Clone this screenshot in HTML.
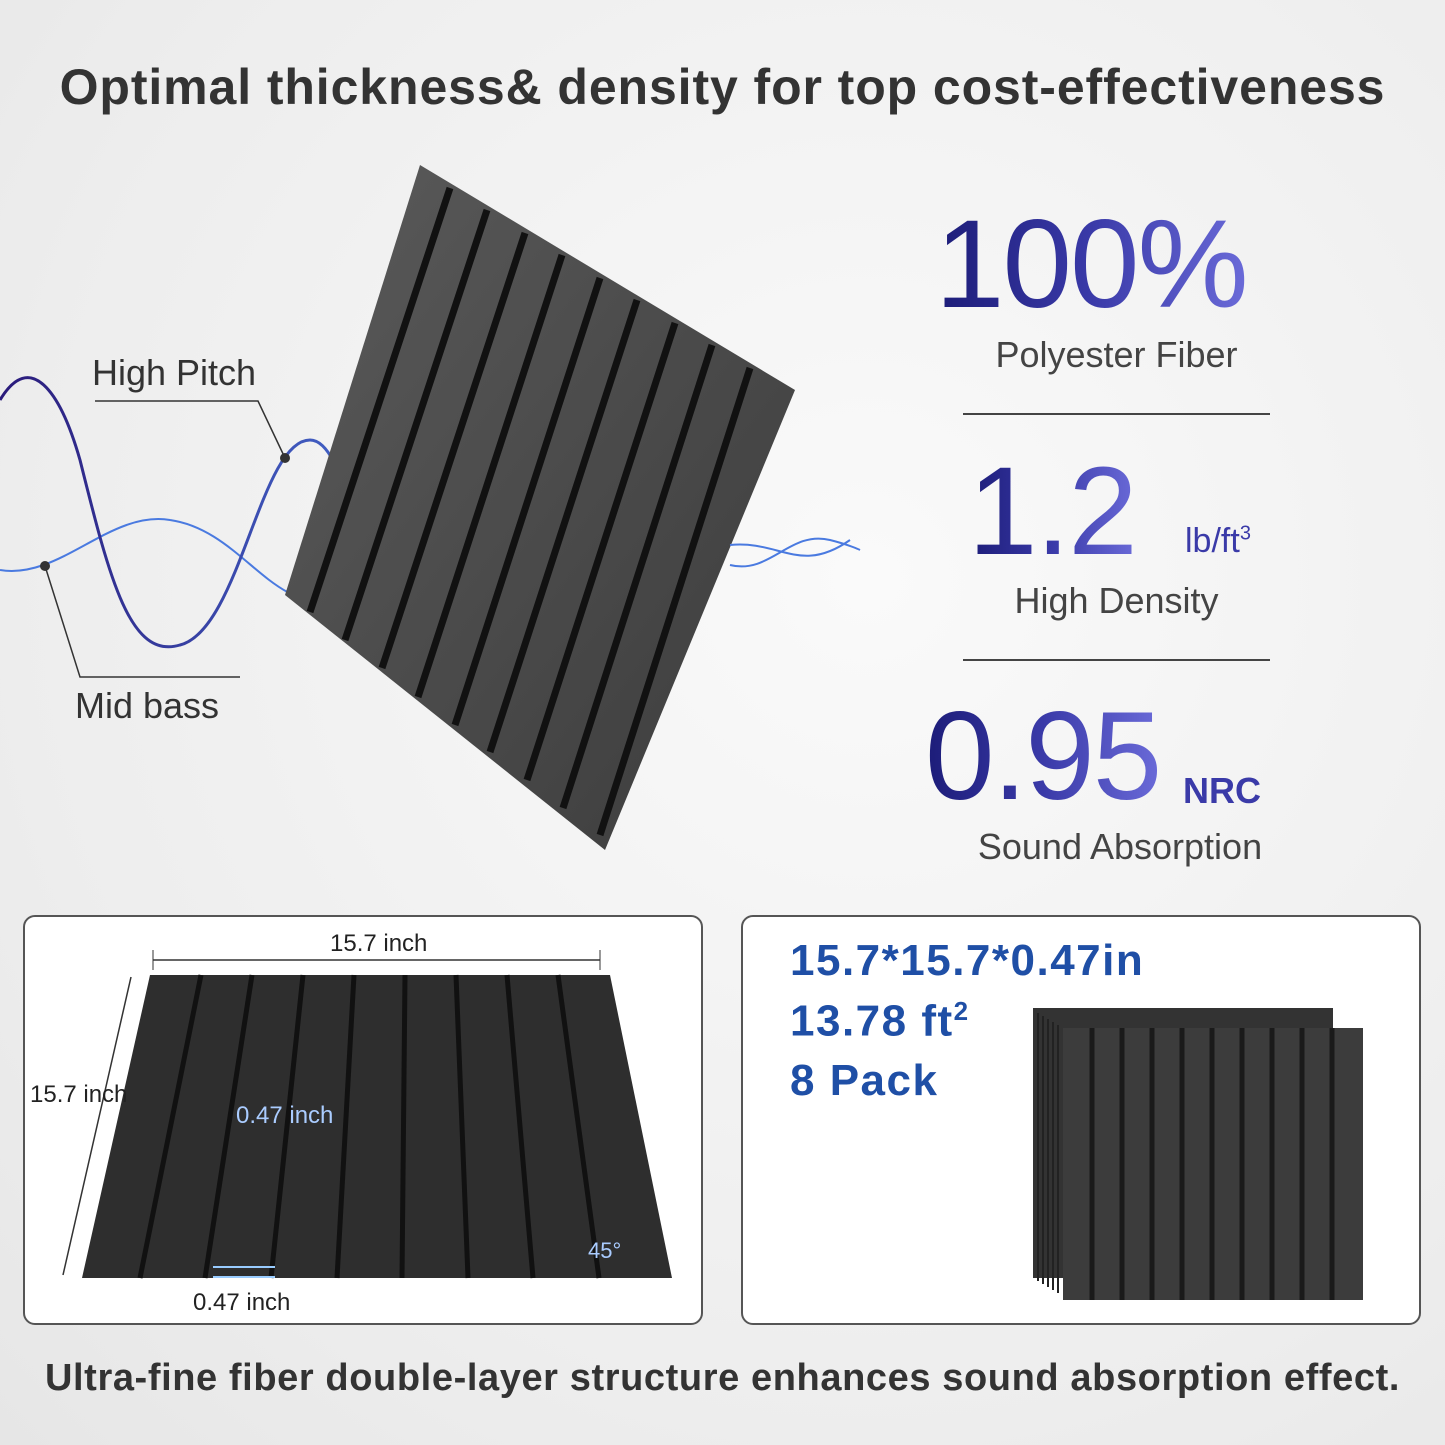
<!DOCTYPE html>
<html><head><meta charset="utf-8"><style>
html,body{margin:0;padding:0}
body{width:1445px;height:1445px;overflow:hidden;background:radial-gradient(ellipse at 60% 40%,#fafafa 0%,#ededed 70%,#e6e6e6 100%);font-family:"Liberation Sans",sans-serif;position:relative}
.t{position:absolute;white-space:nowrap}
.big{font-family:"Liberation Sans",sans-serif;background:linear-gradient(90deg,#1c1c78,#3a3aa8 50%,#6a6ad8);-webkit-background-clip:text;background-clip:text;color:transparent;letter-spacing:-2px}
.sub{color:#444;font-size:36px;text-align:center}
.box{position:absolute;background:#fff;border:2px solid #555;border-radius:12px}
.blue{color:#1f4fa6;font-weight:bold;font-size:44px;letter-spacing:1.5px}
</style></head><body>
<div class="t" style="left:0;width:1445px;text-align:center;top:58px;font-size:50px;letter-spacing:0.9px;font-weight:bold;color:#333">Optimal thickness&amp; density for top cost-effectiveness</div>

<svg class="t" style="left:0;top:0" width="900" height="900">
<defs><linearGradient id="w" x1="0" x2="1"><stop offset="0" stop-color="#2a1a7a"/><stop offset="1" stop-color="#4a7ae0"/></linearGradient>
<linearGradient id="p" x1="0" y1="0" x2="1" y2="1"><stop offset="0" stop-color="#5a5a5a"/><stop offset="1" stop-color="#3c3c3c"/></linearGradient></defs>
<path d="M0,570 C60,580 110,510 170,520 C240,530 270,610 330,600 C390,590 410,510 450,520 C480,530 470,590 500,610" stroke="#4a7ae0" stroke-width="2" fill="none"/>
<path d="M0,400 C30,350 60,390 80,460 C110,580 130,660 180,645 C240,630 260,440 310,440 C350,440 360,600 410,600 C440,600 450,580 470,560" stroke="url(#w)" stroke-width="3" fill="none"/>
<polygon points="420,165 795,390 605,850 285,595" fill="url(#p)"/>
<g stroke="#111" stroke-width="7">
<line x1="450" y1="188" x2="310" y2="612"/><line x1="487" y1="210" x2="345" y2="640"/>
<line x1="525" y1="233" x2="382" y2="668"/><line x1="562" y1="255" x2="418" y2="697"/>
<line x1="600" y1="278" x2="455" y2="725"/><line x1="637" y1="300" x2="490" y2="752"/>
<line x1="675" y1="323" x2="527" y2="780"/><line x1="712" y1="345" x2="563" y2="808"/>
<line x1="750" y1="368" x2="600" y2="835"/>
</g>
<path d="M730,565 C770,575 790,530 830,540 C850,545 860,550 860,550 M730,545 C780,540 800,575 850,540" stroke="#4a7ae0" stroke-width="2" fill="none"/>
<polyline points="95,401 258,401 285,458" stroke="#333" stroke-width="1.5" fill="none"/><circle cx="285" cy="458" r="5" fill="#333"/>
<polyline points="45,566 80,677 240,677" stroke="#333" stroke-width="1.5" fill="none"/><circle cx="45" cy="566" r="5" fill="#333"/>
</svg>
<div class="t" style="left:92px;top:352px;font-size:36px;color:#333">High Pitch</div>
<div class="t" style="left:75px;top:685px;font-size:36px;color:#333">Mid bass</div>

<div class="t big" style="left:935px;top:200px;font-size:125px;line-height:130px">100%</div>
<div class="t sub" style="left:963px;width:307px;top:334px">Polyester Fiber</div>
<div class="t" style="left:963px;top:413px;width:307px;height:2px;background:#444"></div>
<div class="t big" style="left:968px;top:447px;font-size:125px;line-height:130px">1.2</div>
<div class="t" style="left:1185px;top:522px;font-size:34px;color:#3a3aa8">lb/ft<sup style="font-size:20px">3</sup></div>
<div class="t sub" style="left:963px;width:307px;top:580px">High Density</div>
<div class="t" style="left:963px;top:659px;width:307px;height:2px;background:#444"></div>
<div class="t big" style="left:925px;top:692px;font-size:125px;line-height:130px">0.95</div>
<div class="t" style="left:1183px;top:770px;font-size:36px;font-weight:bold;color:#3a3aa8">NRC</div>
<div class="t sub" style="left:950px;width:340px;top:826px">Sound Absorption</div>

<div class="box" style="left:23px;top:915px;width:676px;height:406px"></div>
<svg class="t" style="left:23px;top:915px" width="680" height="410">
<polygon points="127,60 587,60 649,363 59,363" fill="#2e2e2e"/>
<g stroke="#111" stroke-width="5">
<line x1="178" y1="60" x2="117" y2="363"/><line x1="229" y1="60" x2="182" y2="363"/><line x1="280" y1="60" x2="248" y2="363"/>
<line x1="331" y1="60" x2="314" y2="363"/><line x1="382" y1="60" x2="379" y2="363"/><line x1="433" y1="60" x2="445" y2="363"/>
<line x1="484" y1="60" x2="510" y2="363"/><line x1="535" y1="60" x2="576" y2="363"/></g>
<line x1="130" y1="45" x2="577" y2="45" stroke="#333" stroke-width="1.5"/>
<line x1="130" y1="35" x2="130" y2="55" stroke="#333"/><line x1="577" y1="35" x2="577" y2="55" stroke="#333"/>
<line x1="108" y1="62" x2="40" y2="360" stroke="#333" stroke-width="1.5"/>
<line x1="190" y1="352" x2="252" y2="352" stroke="#9cf" stroke-width="2"/><line x1="190" y1="362" x2="252" y2="362" stroke="#9cf" stroke-width="2"/>
<text x="213" y="208" font-size="24" fill="#aaccff" font-family="Liberation Sans">0.47 inch</text>
<text x="565" y="343" font-size="22" fill="#aaccff" font-family="Liberation Sans">45°</text>
</svg>
<div class="t" style="left:330px;top:930px;font-size:24px;color:#222">15.7 inch</div>
<div class="t" style="left:30px;top:1081px;font-size:24px;color:#222">15.7 inch</div>
<div class="t" style="left:193px;top:1289px;font-size:24px;color:#222">0.47 inch</div>

<div class="box" style="left:741px;top:915px;width:676px;height:406px"></div>
<div class="t blue" style="left:790px;top:936px">15.7*15.7*0.47in</div>
<div class="t blue" style="left:790px;top:996px">13.78 ft<sup style="font-size:26px">2</sup></div>
<div class="t blue" style="left:790px;top:1056px">8 Pack</div>
<svg class="t" style="left:1030px;top:1005px" width="340" height="300">
<rect x="3" y="3" width="300" height="270" fill="#333"/>
<rect x="33" y="23" width="300" height="272" fill="#3c3c3c"/>
<g stroke="#222" stroke-width="2"><line x1="8" y1="8" x2="8" y2="276"/><line x1="13" y1="11" x2="13" y2="279"/><line x1="18" y1="14" x2="18" y2="282"/><line x1="23" y1="17" x2="23" y2="285"/><line x1="28" y1="20" x2="28" y2="288"/></g>
<g stroke="#1a1a1a" stroke-width="5">
<line x1="62" y1="23" x2="62" y2="295"/><line x1="92" y1="23" x2="92" y2="295"/><line x1="122" y1="23" x2="122" y2="295"/><line x1="152" y1="23" x2="152" y2="295"/><line x1="182" y1="23" x2="182" y2="295"/><line x1="212" y1="23" x2="212" y2="295"/><line x1="242" y1="23" x2="242" y2="295"/><line x1="272" y1="23" x2="272" y2="295"/><line x1="302" y1="23" x2="302" y2="295"/></g>
</svg>

<div class="t" style="left:0;width:1445px;text-align:center;top:1357px;font-size:38px;letter-spacing:0.6px;font-weight:bold;color:#333">Ultra-fine fiber double-layer structure enhances sound absorption effect.</div>
</body></html>
